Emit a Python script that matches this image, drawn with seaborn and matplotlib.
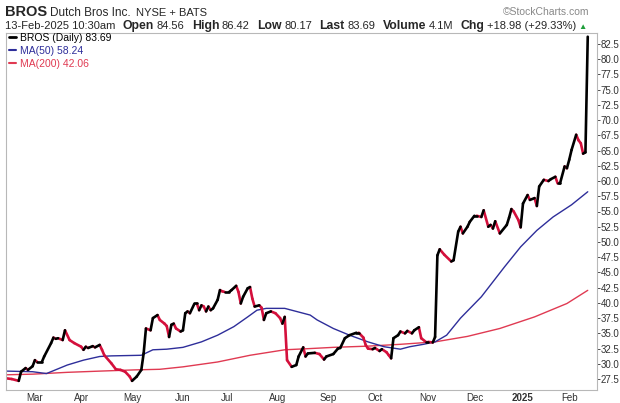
import matplotlib
matplotlib.use("Agg")
import matplotlib.pyplot as plt
from matplotlib.lines import Line2D
import seaborn as sns
import pandas as pd

# ---- data ----
# trading sessions 13-Feb-2024 .. 13-Feb-2025
first_day, last_day = "2024-02-13", "2025-02-13"
holidays = ["2024-02-19", "2024-03-29", "2024-05-27", "2024-06-19", "2024-07-04",
            "2024-09-02", "2024-11-28", "2024-12-25", "2025-01-01", "2025-01-09",
            "2025-01-20"]

# session number (0 = 13-Feb-2024) and close at the turning points
price_session = [0, 2, 5, 6, 8, 9, 11, 12, 13, 15, 16, 19, 20, 21, 22, 24, 25, 27, 29,
                 32, 33, 34, 35, 37, 38, 40, 41, 42, 45, 47, 49, 51, 53, 54, 56, 58, 59,
                 60, 62, 63, 65, 66, 68, 69, 70, 71, 72, 73, 75, 76, 77, 78, 79, 81, 82,
                 83, 84, 85, 86, 87, 88, 89, 91, 92, 93, 94, 96, 97, 99, 100, 101, 102,
                 104, 105, 106, 107, 109, 110, 111, 112, 114, 116, 118, 119, 120, 121,
                 123, 125, 126, 128, 129, 130, 133, 135, 137, 138, 141, 143, 144, 146,
                 148, 151, 152, 154, 155, 156, 158, 159, 161, 162, 164, 165, 166, 167,
                 169, 170, 172, 173, 175, 176, 178, 179, 181, 182, 184, 185, 186, 187,
                 189, 192, 193, 195, 196, 197, 199, 200, 202, 203, 205, 206, 208, 209,
                 210, 211, 213, 216, 217, 218, 219, 221, 222, 223, 225, 226, 228, 229,
                 230, 232, 234, 235, 237, 238, 239, 241, 242, 243, 244, 246, 247, 248,
                 249, 250, 251]
price_close = [27.6, 27.5, 27.2, 28.7, 29.3, 29.0, 29.6, 30.6, 30.3, 30.3, 31.2, 33.4, 34.3,
               34.1, 34.2, 33.9, 35.5, 33.9, 33.4, 32.8, 32.3, 32.8, 32.6, 32.9, 32.7, 33.1,
               32.3, 31.4, 30.1, 29.1, 29.0, 28.7, 27.9, 27.2, 27.9, 29.0, 31.7, 35.8, 35.5,
               37.5, 38.0, 37.2, 36.6, 36.2, 34.4, 36.4, 36.6, 35.8, 35.3, 35.5, 38.3, 38.6,
               38.3, 39.9, 39.9, 38.8, 39.6, 39.4, 38.6, 39.4, 38.8, 39.1, 40.5, 42.1, 41.9,
               41.8, 41.8, 42.1, 42.8, 41.8, 39.9, 41.0, 42.4, 42.6, 40.7, 39.4, 39.6, 39.2,
               37.2, 38.3, 38.6, 38.3, 37.5, 36.6, 37.7, 30.6, 29.5, 29.8, 31.2, 32.7, 31.2,
               31.7, 31.8, 31.6, 30.7, 31.2, 31.6, 32.5, 32.6, 34.2, 34.7, 35.1, 35.1, 34.3,
               33.1, 32.5, 32.4, 32.6, 32.1, 32.4, 31.9, 31.4, 30.9, 34.2, 34.7, 35.3, 35.0,
               35.4, 35.0, 35.5, 36.0, 34.2, 33.6, 33.6, 33.5, 34.4, 47.8, 48.8, 47.9, 46.8,
               47.0, 51.7, 52.5, 51.4, 52.5, 53.3, 54.3, 54.3, 54.1, 55.2, 52.5, 52.8, 52.2,
               53.4, 51.4, 52.8, 54.0, 55.4, 55.0, 53.6, 52.4, 56.3, 57.7, 56.9, 57.2, 55.9,
               59.1, 60.2, 60.0, 60.3, 60.7, 59.6, 59.6, 62.4, 62.1, 63.5, 65.1, 67.6, 66.7,
               66.2, 64.5, 64.71, 83.69]

ma50_session = [0, 11, 17, 26, 33, 40, 45, 58, 63, 69, 76, 84, 91, 98, 104, 108, 112, 120,
                123, 131, 134, 141, 148, 156, 163, 170, 174, 180, 185, 190, 196, 205, 215,
                222, 229, 236, 244, 251]
ma50_value = [28.8, 28.7, 28.4, 29.8, 30.6, 31.2, 31.3, 31.4, 32.3, 32.4, 32.7, 33.6, 34.7,
              36.1, 37.7, 38.8, 39.1, 39.1, 38.8, 38.0, 37.2, 35.8, 34.7, 33.6, 32.8, 32.4,
              32.8, 33.2, 33.6, 34.7, 37.5, 41.0, 45.9, 49.2, 51.9, 54.1, 56.1, 58.24]

ma200_session = [0, 11, 26, 40, 55, 66, 76, 91, 105, 120, 131, 141, 156, 170, 185, 199,
                 213, 228, 242, 251]
ma200_value = [28.2, 28.3, 28.6, 28.8, 29.0, 29.1, 29.5, 30.3, 31.4, 32.3, 32.5, 32.7,
               32.9, 33.2, 33.6, 34.5, 35.8, 37.7, 39.9, 42.06]

month_labels = ["Mar", "Apr", "May", "Jun", "Jul", "Aug", "Sep", "Oct", "Nov", "Dec",
                "2025", "Feb"]
y_ticks = [27.5 + 2.5 * k for k in range(23)]

# ---- trading calendar -> month tick positions ----
days = pd.bdate_range(first_day, last_day)
days = days[~days.isin(pd.to_datetime(holidays))]
cal = pd.DataFrame({"date": days, "session": range(len(days))})
month_start = cal.groupby(cal["date"].dt.to_period("M"))["session"].min().iloc[1:]

# up days black, down days red
seg_rows = []
for k in range(len(price_session) - 1):
    direction = "up" if price_close[k + 1] >= price_close[k] else "down"
    for j in (k, k + 1):
        seg_rows.append({"seg": k, "dir": direction,
                         "session": price_session[j], "close": price_close[j]})
seg_df = pd.DataFrame(seg_rows)
ma50_df = pd.DataFrame({"session": ma50_session, "ma": ma50_value})
ma200_df = pd.DataFrame({"session": ma200_session, "ma": ma200_value})

sns.set_style("white")
plt.rcParams["font.family"] = ["Liberation Sans", "DejaVu Sans"]

W, H = 620, 403
fig = plt.figure(figsize=(W / 100, H / 100), dpi=100)
ax = fig.add_axes([6 / W, 1 - 390 / H, 591 / W, 357 / H])

blue = "#2e2e9a"
red_ma = "#e03a52"
red_px = "#d4103c"

sns.lineplot(data=ma200_df, x="session", y="ma", color=red_ma, lw=1.0, ax=ax)
sns.lineplot(data=ma50_df, x="session", y="ma", color=blue, lw=1.0, ax=ax)
sns.lineplot(data=seg_df, x="session", y="close", hue="dir", units="seg", estimator=None,
             palette={"up": "black", "down": red_px}, lw=1.9, legend=False,
             solid_capstyle="round", ax=ax)

ax.set_xlim(-0.5, 255)
ax.set_ylim(25.7, 84.3)
ax.set_xlabel("")
ax.set_ylabel("")
ax.yaxis.tick_right()
ax.set_yticks(y_ticks)
ax.set_yticklabels([f"{v:.1f}" for v in y_ticks])
ax.set_xticks(list(month_start.values))
ax.set_xticklabels(month_labels)
ax.tick_params(axis="both", labelsize=7, colors="#333333", length=2, width=0.6,
               direction="out", pad=0.5)
for lab in ax.get_xticklabels():
    if lab.get_text() == "2025":
        lab.set_fontweight("bold")
for sp in ax.spines.values():
    sp.set_color("#b8b8b8")
    sp.set_linewidth(0.8)

# legend in the chart corner
handles = [Line2D([], [], color="black", lw=2),
           Line2D([], [], color=blue, lw=1.5),
           Line2D([], [], color=red_ma, lw=1.5)]
leg = ax.legend(handles, ["BROS (Daily) 83.69", "MA(50) 58.24", "MA(200) 42.06"],
                loc="upper left", bbox_to_anchor=(0, 1.01), frameon=False,
                fontsize=7.5, handlelength=0.7, handletextpad=0.3, labelspacing=0.3,
                borderaxespad=0.1, borderpad=0.2)
for txt, c in zip(leg.get_texts(), ["black", blue, red_ma]):
    txt.set_color(c)

# header lines
renderer = fig.canvas.get_renderer()


def run_text(x, y, s, **kw):
    t = fig.text(x / W, 1 - y / H, s, va="baseline", **kw)
    return x + t.get_window_extent(renderer=renderer).width


x = run_text(5, 16, "BROS", fontsize=10.5, fontweight="bold")
x = run_text(x + 3, 16, "Dutch Bros Inc.", fontsize=8.5)
run_text(x + 5, 16, "NYSE + BATS", fontsize=8)
fig.text(589 / W, 1 - 15 / H, "©StockCharts.com", ha="right", va="baseline",
         fontsize=7.5, color="#888888")

x = 5
line2 = [("13-Feb-2025 10:30am", False), ("Open", True), ("84.56", False),
         ("High", True), ("86.42", False), ("Low", True), ("80.17", False),
         ("Last", True), ("83.69", False), ("Volume", True), ("4.1M", False),
         ("Chg", True), ("+18.98 (+29.33%)", False)]
for s, bold in line2:
    if bold:
        x = run_text(x, 29, s, fontsize=8.8, fontweight="bold") + 2.5
    else:
        x = run_text(x, 29, s, fontsize=8) + 7.5
run_text(x - 5, 29, "▲", fontsize=6, color="#1f9e3a")

fig.savefig("out.png", dpi=100)
